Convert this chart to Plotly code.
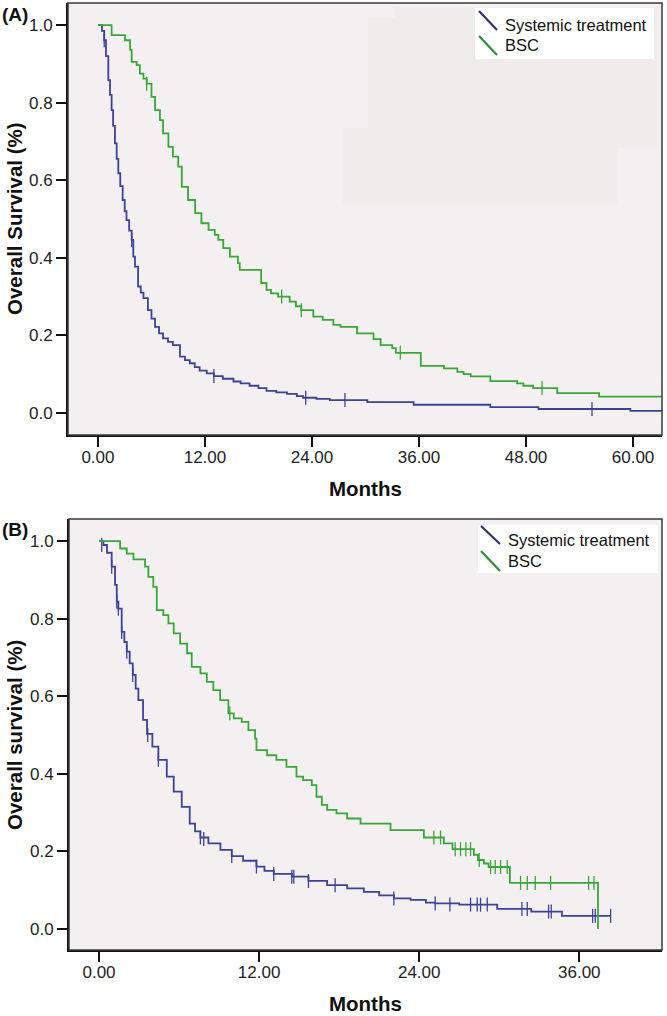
import plotly.graph_objects as go

W, H = 667, 1016

BLUE = "#3D4297"
GREEN = "#3AA63A"
BLUE_LEG = "#2E3273"
GREEN_LEG = "#2F8C3C"
PLOT_BG = "#F4F0F2"
PATCH_BG = "#F0ECEB"

TICK_FONT = dict(family="Liberation Sans Narrow, Arial Narrow, Liberation Sans, Arial", size=17, color="#222222")
TITLE_FONT = dict(family="Liberation Sans, Arial", size=20.5, color="#111111")

# ---- Panel A: Kaplan-Meier, Systemic treatment vs BSC ----
a_sys_t = [0.0, 0.22, 0.45, 0.7, 0.9, 1.16, 1.35, 1.53, 1.7, 1.9, 2.1, 2.28, 2.5, 2.77, 3.0, 3.2,
           3.5, 3.78, 3.96, 4.15, 4.5, 4.8, 5.1, 5.6, 6.0, 6.4, 6.85, 7.3, 7.85, 8.4, 9.2, 9.75,
           10.3, 10.85, 11.4, 12.2, 13.0, 14.0, 15.2, 16.0, 17.0, 18.0, 18.9, 20.0, 21.2, 22.3,
           23.0, 24.5, 26.0, 30.2, 35.4, 44.0, 49.4, 59.7, 64.0]
a_sys_s = [1.0, 1.0, 0.985, 0.961, 0.92, 0.858, 0.82, 0.781, 0.74, 0.695, 0.655, 0.618, 0.585, 0.549, 0.52, 0.497,
           0.47, 0.446, 0.403, 0.377, 0.326, 0.31, 0.296, 0.265, 0.243, 0.222, 0.205, 0.192, 0.183, 0.175, 0.145, 0.136,
           0.128, 0.118, 0.109, 0.102, 0.095, 0.088, 0.081, 0.076, 0.070, 0.064, 0.057, 0.053, 0.049, 0.043,
           0.039, 0.036, 0.033, 0.028, 0.021, 0.015, 0.010, 0.005, 0.005]
a_sys_cens_t = [0.7, 3.78, 13.0, 23.3, 27.7, 55.4]
a_sys_cens_s = [0.961, 0.446, 0.095, 0.039, 0.033, 0.010]

a_bsc_t = [0.0, 0.22, 1.53, 3.03, 3.6, 3.78, 4.34, 4.7, 5.1, 5.46, 6.0, 6.4, 6.95, 7.3, 7.9, 8.4,
           9.0, 9.4, 10.1, 10.9, 11.6, 12.4, 13.1, 13.5, 14.05, 14.8, 15.7, 15.9, 18.3, 18.9, 19.4,
           20.2, 21.5, 22.2, 22.8, 24.15, 25.2, 26.4, 27.2, 29.05, 30.9, 31.7, 33.0, 33.4, 36.2,
           38.8, 40.3, 41.0, 41.8, 44.0, 47.0, 47.7, 48.8, 51.5, 56.2, 64.0]
a_bsc_s = [1.0, 1.0, 0.974, 0.961, 0.936, 0.905, 0.897, 0.875, 0.862, 0.849, 0.815, 0.781, 0.755, 0.721, 0.686, 0.661,
           0.635, 0.583, 0.549, 0.515, 0.489, 0.472, 0.459, 0.446, 0.425, 0.403, 0.386, 0.369, 0.335, 0.317, 0.308,
           0.300, 0.287, 0.275, 0.265, 0.248, 0.240, 0.227, 0.222, 0.205, 0.190, 0.175, 0.167, 0.155, 0.121,
           0.115, 0.106, 0.100, 0.094, 0.082, 0.076, 0.070, 0.064, 0.051, 0.042, 0.042]
a_bsc_cens_t = [5.46, 20.6, 22.8, 33.9, 49.8]
a_bsc_cens_s = [0.849, 0.300, 0.265, 0.155, 0.064]

# ---- Panel B ----
b_sys_t = [0.0, 0.33, 0.6, 0.95, 1.2, 1.33, 1.45, 1.7, 1.9, 2.08, 2.3, 2.53, 2.75, 2.95, 3.3, 3.6,
           4.0, 4.45, 5.08, 5.6, 6.2, 6.8, 7.2, 7.6, 8.2, 9.1, 9.95, 10.8, 11.8, 12.4, 13.1, 14.45,
           15.7, 17.1, 18.6, 19.85, 21.0, 22.1, 23.35, 24.5, 25.2, 27.0, 29.85, 32.4, 34.7, 38.35]
b_sys_s = [1.0, 0.99, 0.97, 0.934, 0.887, 0.844, 0.826, 0.766, 0.74, 0.715, 0.685, 0.655, 0.62, 0.590, 0.539, 0.503,
           0.47, 0.436, 0.393, 0.354, 0.315, 0.272, 0.252, 0.236, 0.221, 0.204, 0.188, 0.176, 0.161, 0.150, 0.142, 0.135,
           0.124, 0.113, 0.105, 0.096, 0.087, 0.079, 0.075, 0.068, 0.066, 0.063, 0.052, 0.045, 0.034, 0.034]
b_sys_cens_t = [0.2, 0.95, 1.33, 1.45, 1.7, 2.08, 2.53, 3.65, 4.45, 7.6, 7.85, 9.95, 11.8, 13.1, 14.45, 14.6,
                15.7, 17.7, 22.1, 25.2, 26.3, 27.85, 28.35, 28.6, 29.1, 31.7, 32.1, 33.7, 33.9, 37.0, 37.2, 38.35]
b_sys_cens_s = [0.99, 0.934, 0.844, 0.826, 0.766, 0.715, 0.655, 0.50, 0.436, 0.236, 0.232, 0.188, 0.161, 0.142, 0.135, 0.135,
                0.124, 0.113, 0.079, 0.066, 0.063, 0.063, 0.063, 0.063, 0.063, 0.052, 0.052, 0.045, 0.045, 0.034, 0.034, 0.034]

b_bsc_t = [0.0, 0.33, 1.58, 2.08, 2.58, 3.45, 3.7, 4.07, 4.33, 4.82, 5.2, 5.6, 6.08, 6.6, 6.95, 7.6,
           8.08, 8.57, 9.08, 9.7, 10.1, 10.7, 11.2, 11.7, 11.8, 12.6, 13.3, 14.05, 14.8, 15.3, 15.95,
           16.3, 16.7, 17.1, 17.8, 18.6, 19.6, 21.85, 24.35, 25.85, 26.5, 28.1, 28.4, 28.85, 29.2, 30.8, 37.4]
b_bsc_s = [1.0, 1.0, 0.981, 0.968, 0.953, 0.934, 0.908, 0.882, 0.822, 0.809, 0.788, 0.762, 0.736, 0.711, 0.676, 0.659,
           0.637, 0.616, 0.590, 0.556, 0.543, 0.534, 0.513, 0.491, 0.461, 0.448, 0.436, 0.418, 0.393, 0.384, 0.371,
           0.341, 0.320, 0.307, 0.298, 0.285, 0.272, 0.255, 0.236, 0.221, 0.206, 0.191, 0.178, 0.169, 0.160, 0.119, 0.0]
b_bsc_cens_t = [9.8, 25.1, 25.6, 26.7, 27.1, 27.5, 27.85, 28.5, 29.35, 29.7, 30.1, 30.6,
                31.6, 32.1, 32.7, 33.85, 36.7, 37.1]
b_bsc_cens_s = [0.556, 0.236, 0.236, 0.206, 0.206, 0.206, 0.206, 0.178, 0.160, 0.160, 0.160, 0.160,
                0.119, 0.119, 0.119, 0.119, 0.119, 0.119]

legend_names = ["Systemic treatment", "BSC"]
x_ticks_a = [0, 12, 24, 36, 48, 60]
x_ticks_b = [0, 12, 24, 36]
y_ticks = [0.0, 0.2, 0.4, 0.6, 0.8, 1.0]


def fx(px):
    return px / W


def fy(py):
    return 1 - py / H


fig = go.Figure()


def add_curve(t, s, ct, cs, color, xa, ya, name):
    fig.add_trace(go.Scatter(x=t, y=s, mode="lines", line=dict(color=color, width=1.8, shape="hv"),
                             xaxis=xa, yaxis=ya, name=name, showlegend=False))
    # censored observations drawn as small vertical ticks
    fig.add_trace(go.Scatter(x=ct, y=cs, mode="markers",
                             marker=dict(symbol="line-ns-open", size=10, color=color,
                                         line=dict(color=color, width=1.3)),
                             xaxis=xa, yaxis=ya, name=name + " censored", showlegend=False))


add_curve(a_sys_t, a_sys_s, a_sys_cens_t, a_sys_cens_s, BLUE, "x", "y", legend_names[0])
add_curve(a_bsc_t, a_bsc_s, a_bsc_cens_t, a_bsc_cens_s, GREEN, "x", "y", legend_names[1])
add_curve(b_sys_t, b_sys_s, b_sys_cens_t, b_sys_cens_s, BLUE, "x2", "y2", legend_names[0])
add_curve(b_bsc_t, b_bsc_s, b_bsc_cens_t, b_bsc_cens_s, GREEN, "x2", "y2", legend_names[1])

axis_common = dict(showgrid=False, zeroline=False, showline=True, linecolor="#111111", linewidth=2,
                   ticks="outside", ticklen=10, tickwidth=2, tickcolor="#111111",
                   tickfont=TICK_FONT, automargin=False, fixedrange=True)

fig.update_layout(
    width=W, height=H,
    margin=dict(l=0, r=0, t=0, b=0),
    paper_bgcolor="white",
    plot_bgcolor=PLOT_BG,
    showlegend=False,
    xaxis=dict(domain=[fx(68), fx(662)], range=[-3.36, 63.25], tickvals=x_ticks_a,
               tickformat=".2f", anchor="y", ticklabelstandoff=-4, **axis_common),
    yaxis=dict(domain=[fy(435), fy(3)], range=[-0.057, 1.057], tickvals=y_ticks,
               tickformat=".1f", anchor="x", **axis_common),
    xaxis2=dict(domain=[fx(69), fx(662)], range=[-2.25, 42.2], tickvals=x_ticks_b,
                tickformat=".2f", anchor="y2", ticklabelstandoff=-4, **axis_common),
    yaxis2=dict(domain=[fy(950), fy(519)], range=[-0.054, 1.057], tickvals=y_ticks,
                tickformat=".1f", anchor="x2", **axis_common),
)

shapes = []
# faint patch in panel A background
for x0, y0, x1, y1 in [(395, 7, 657, 148), (368, 18, 657, 148), (343, 128, 617, 204)]:
    shapes.append(dict(type="rect", xref="paper", yref="paper", x0=fx(x0), x1=fx(x1), y0=fy(y1), y1=fy(y0),
                       fillcolor=PATCH_BG, line=dict(width=0), layer="below"))
# plot frames
for xr, yr in [("x", "y"), ("x2", "y2")]:
    shapes.append(dict(type="rect", xref=xr + " domain", yref=yr + " domain", x0=0, x1=1, y0=0, y1=1,
                       line=dict(color="#3a3a3a", width=1.5), fillcolor="rgba(0,0,0,0)"))

annotations = []


def add_legend(box, lines, text_x, text_ys):
    x0, y0, x1, y1 = box
    shapes.append(dict(type="rect", xref="paper", yref="paper", x0=fx(x0), x1=fx(x1), y0=fy(y1), y1=fy(y0),
                       fillcolor="white", line=dict(width=0)))
    for (lx0, ly0, lx1, ly1), col in zip(lines, [BLUE_LEG, GREEN_LEG]):
        shapes.append(dict(type="line", xref="paper", yref="paper", x0=fx(lx0), y0=fy(ly0), x1=fx(lx1), y1=fy(ly1),
                           line=dict(color=col, width=2.2)))
    for name, ty in zip(legend_names, text_ys):
        annotations.append(dict(text=name, xref="paper", yref="paper", x=fx(text_x), y=fy(ty),
                                xanchor="left", yanchor="middle", showarrow=False,
                                font=dict(family="Liberation Sans, Arial", size=16.5, color="#111111")))


add_legend((475, 8, 654, 59), [(479, 11, 497, 30), (479, 36, 497, 55)], 503, [25, 45])
add_legend((478, 525, 658, 573), [(481, 526, 500, 544), (481, 551, 500, 571)], 506, [540, 561])

# panel letters and axis titles
for txt, y in [("(A)", 15), ("(B)", 529)]:
    annotations.append(dict(text="<b>%s</b>" % txt, xref="paper", yref="paper", x=0, y=fy(y),
                            xanchor="left", yanchor="middle", showarrow=False,
                            font=dict(family="Liberation Sans, Arial", size=19, color="#111111")))
for txt, y in [("Overall Survival (%)", 219), ("Overall survival (%)", 735)]:
    annotations.append(dict(text="<b>%s</b>" % txt, xref="paper", yref="paper", x=fx(14), y=fy(y),
                            xanchor="center", yanchor="middle", textangle=-90, showarrow=False,
                            font=TITLE_FONT))
for y in [488, 1003]:
    annotations.append(dict(text="<b>Months</b>", xref="paper", yref="paper", x=fx(365), y=fy(y),
                            xanchor="center", yanchor="middle", showarrow=False, borderpad=0,
                            font=TITLE_FONT))

fig.update_layout(shapes=shapes, annotations=annotations)

# the page body has a default 8px margin; drop it so the figure fills the window exactly
fig.write_html("out.html", config={"displayModeBar": False},
               post_script="document.body.style.margin='0';")
